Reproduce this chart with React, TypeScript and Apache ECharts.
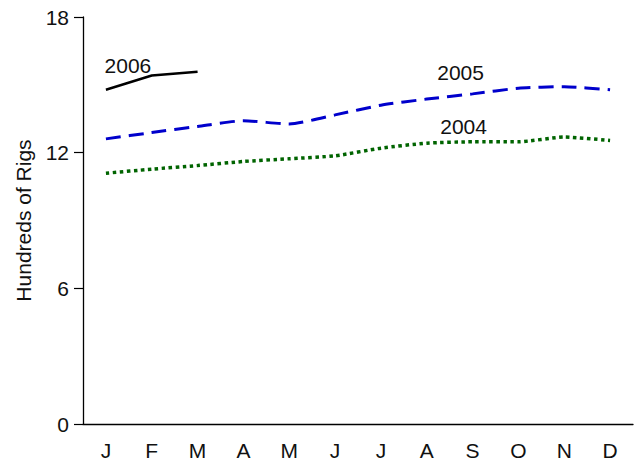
import React, { useEffect, useRef } from "react";
import * as echarts from "echarts";

const months = ["J", "F", "M", "A", "M", "J", "J", "A", "S", "O", "N", "D"];
const rigs2004 = [11.09, 11.27, 11.43, 11.61, 11.73, 11.86, 12.2, 12.42, 12.48, 12.48, 12.69, 12.54];
const rigs2005 = [12.61, 12.89, 13.16, 13.41, 13.27, 13.67, 14.1, 14.37, 14.6, 14.85, 14.92, 14.78];
const rigs2006 = [14.78, 15.41, 15.58];
const yTicks = [0, 6, 12, 18];

const FONT = "Liberation Sans";

function withLabel(values: number[], idx: number, text: string, offset: number[]) {
  return values.map((v, i) =>
    i === idx
      ? {
          value: v,
          label: {
            show: true,
            position: "top",
            formatter: text,
            offset,
            fontSize: 21,
            color: "#111",
            fontFamily: FONT,
          },
        }
      : v
  );
}

export default function App() {
  const ref = useRef<HTMLDivElement>(null);
  useEffect(() => {
    if (!ref.current) return;
    const chart = echarts.init(ref.current, undefined, { renderer: "svg" });
    chart.setOption({
      animation: false,
      backgroundColor: "#fff",
      grid: { left: 83, right: 3, top: 17, bottom: 41 },
      xAxis: {
        type: "category",
        data: months,
        boundaryGap: true,
        axisLine: { lineStyle: { color: "#000", width: 1.3 } },
        axisTick: { alignWithLabel: true, length: 9, lineStyle: { color: "#000", width: 1.2 } },
        axisLabel: { color: "#111", fontSize: 21, fontFamily: FONT, margin: 16 },
        splitLine: { show: false },
      },
      yAxis: {
        type: "value",
        min: yTicks[0],
        max: yTicks[yTicks.length - 1],
        interval: 6,
        name: "Hundreds of Rigs",
        nameLocation: "middle",
        nameGap: 49,
        nameTextStyle: { fontSize: 21, color: "#111", fontFamily: FONT },
        axisLine: { show: true, lineStyle: { color: "#000", width: 1.3 } },
        axisTick: { show: true, length: 9, lineStyle: { color: "#000", width: 1.2 } },
        axisLabel: { color: "#111", fontSize: 21, fontFamily: FONT, margin: 14 },
        splitLine: { show: false },
      },
      series: [
        {
          name: "2004",
          type: "line",
          data: withLabel(rigs2004, 8, "2004", [-9, 0]),
          showSymbol: true,
          symbol: "circle",
          symbolSize: 0,
          smooth: 0.2,
          lineStyle: { color: "#006400", width: 3.5, type: [3.5, 3.5] },
          itemStyle: { color: "#006400" },
          z: 2,
        },
        {
          name: "2005",
          type: "line",
          data: withLabel(rigs2005, 8, "2005", [-12, -6]),
          showSymbol: true,
          symbol: "circle",
          symbolSize: 0,
          smooth: 0.2,
          lineStyle: { color: "#0000cc", width: 3, type: [15, 8] },
          itemStyle: { color: "#0000cc" },
          z: 3,
        },
        {
          name: "2006",
          type: "line",
          data: withLabel(rigs2006, 0, "2006", [22, -9]),
          showSymbol: true,
          symbol: "circle",
          symbolSize: 0,
          lineStyle: { color: "#000", width: 2.5, type: "solid" },
          itemStyle: { color: "#000" },
          z: 4,
        },
      ],
    });
    return () => chart.dispose();
  }, []);
  return <div ref={ref} style={{ position: "absolute", left: 0, top: 0, width: 636, height: 465 }} />;
}
